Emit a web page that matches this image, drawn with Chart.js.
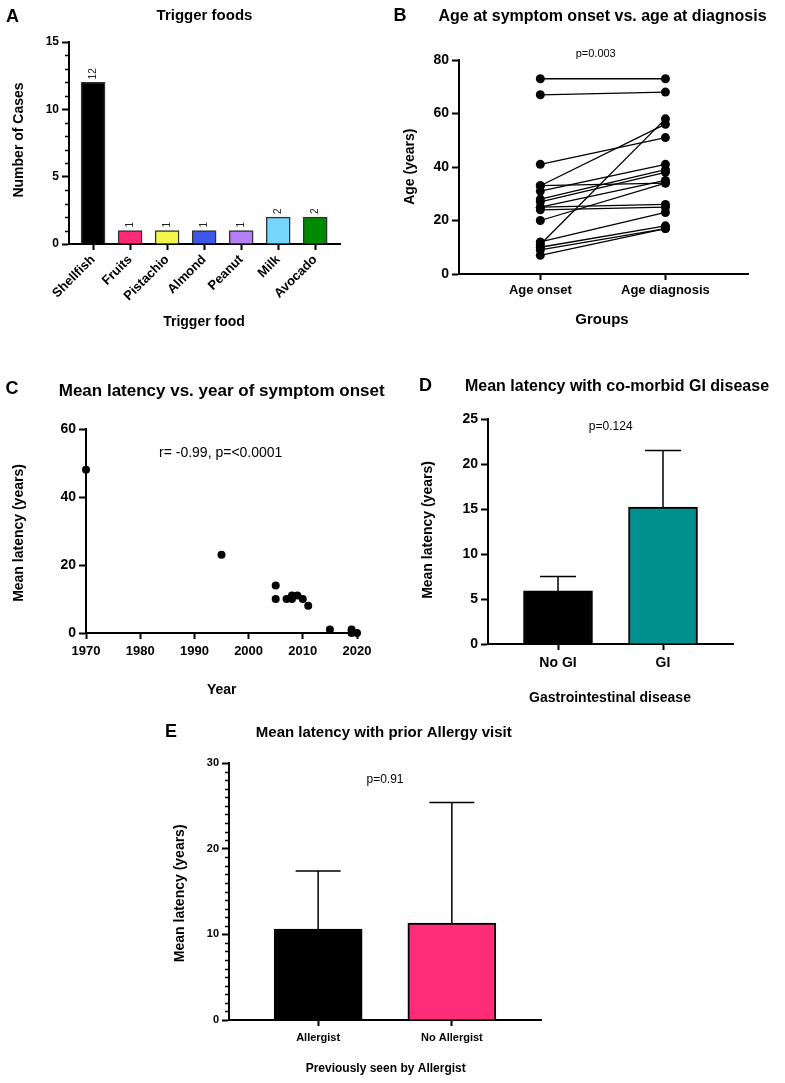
<!DOCTYPE html>
<html>
<head>
<meta charset="utf-8">
<script src="https://cdn.jsdelivr.net/npm/chart.js@4.4.0/dist/chart.umd.min.js"></script>
<style>
  html, body { margin: 0; padding: 0; background: #fff; }
  body { width: 785px; height: 1083px; position: relative; overflow: hidden; }
  canvas { position: absolute; }
</style>
</head>
<body>
<canvas id="chartA" width="390" height="335" style="left:0;top:0"></canvas>
<canvas id="chartB" width="395" height="335" style="left:390px;top:0"></canvas>
<canvas id="chartC" width="400" height="350" style="left:0;top:360px"></canvas>
<canvas id="chartD" width="385" height="350" style="left:400px;top:360px"></canvas>
<canvas id="chartE" width="450" height="378" style="left:150px;top:705px"></canvas>
<script>
// A - trigger foods
const foodNames = ['Shellfish', 'Fruits', 'Pistachio', 'Almond', 'Peanut', 'Milk', 'Avocado'];
const foodCases = [12, 1, 1, 1, 1, 2, 2];
const foodColors = ['#000000', '#ff2a75', '#f4f64b', '#3b58e6', '#b57ff6', '#76d5fa', '#008a00'];

// B - paired ages
const groupNames = ['Age onset', 'Age diagnosis'];
const onsetAge = [73, 67, 41, 33, 33, 31, 28, 27, 25, 25, 24, 20, 12, 11, 10, 9, 7];
const diagnosisAge = [73, 68, 51, 56, 34, 41, 39, 38, 35, 26, 25, 34, 23, 58, 18, 17, 17];

// C - latency vs year
const onsetYear = [1970, 1995, 2005, 2005, 2007, 2008, 2008, 2009, 2010, 2011, 2015, 2019, 2019, 2020];
const meanLatency = [48, 23, 14, 10, 10, 11, 10, 11, 10, 8, 1, 1, 0, 0];

// D - GI disease
const giGroups = ['No GI', 'GI'];
const giMean = [5.9, 15.2];
const giSd = [1.6, 6.3];

// E - allergist
const allergyGroups = ['Allergist', 'No Allergist'];
const allergyMean = [10.6, 11.3];
const allergySd = [6.8, 14.1];

Chart.defaults.font.family = '"Liberation Sans", Arial, Helvetica, sans-serif';
Chart.defaults.color = '#000';
Chart.defaults.animation = false;

const FONT = '"Liberation Sans", Arial, sans-serif';

// free text drawn on top of a chart
function textLayer(items) {
  return {
    id: 'textLayer',
    afterDraw(chart) {
      const ctx = chart.ctx;
      items.forEach(t => {
        ctx.save();
        ctx.font = (t.bold ? 'bold ' : '') + t.size + 'px ' + FONT;
        ctx.fillStyle = '#000';
        ctx.textAlign = 'center';
        ctx.textBaseline = 'middle';
        ctx.translate(t.x, t.y);
        if (t.rot) ctx.rotate(t.rot * Math.PI / 180);
        ctx.fillText(t.text, 0, 0);
        ctx.restore();
      });
    }
  };
}

// small ticks between the labelled ones on the y axis
function minorTicks(step, skipEvery, len) {
  return {
    id: 'minorTicks',
    afterDraw(chart) {
      const y = chart.scales.y, ctx = chart.ctx;
      ctx.save();
      ctx.strokeStyle = '#000';
      ctx.lineWidth = 1.5;
      for (let v = y.min; v <= y.max; v += step) {
        if (v % skipEvery === 0) continue;
        const py = Math.round(y.getPixelForValue(v)) + 0.5;
        ctx.beginPath();
        ctx.moveTo(y.right - len, py);
        ctx.lineTo(y.right, py);
        ctx.stroke();
      }
      ctx.restore();
    }
  };
}

// upper SD whiskers
function errorBars(sd, cap) {
  return {
    id: 'errorBars',
    afterDatasetsDraw(chart) {
      const meta = chart.getDatasetMeta(0), y = chart.scales.y, ctx = chart.ctx;
      const ds = chart.data.datasets[0].data;
      ctx.save();
      ctx.strokeStyle = '#000';
      ctx.lineWidth = 1.5;
      meta.data.forEach((bar, i) => {
        const top = y.getPixelForValue(ds[i].y + sd[i]);
        ctx.beginPath();
        ctx.moveTo(bar.x, bar.y);
        ctx.lineTo(bar.x, top);
        ctx.moveTo(bar.x - cap / 2, top);
        ctx.lineTo(bar.x + cap / 2, top);
        ctx.stroke();
      });
      ctx.restore();
    }
  };
}

// rotated counts above bars
const barCounts = {
  id: 'barCounts',
  afterDatasetsDraw(chart) {
    const meta = chart.getDatasetMeta(0), ctx = chart.ctx;
    ctx.save();
    ctx.font = '10px ' + FONT;
    ctx.fillStyle = '#222';
    ctx.textAlign = 'left';
    ctx.textBaseline = 'middle';
    meta.data.forEach((bar, i) => {
      ctx.save();
      ctx.translate(bar.x, bar.y - 3);
      ctx.rotate(-Math.PI / 2);
      ctx.fillText(String(foodCases[i]), 0, 0);
      ctx.restore();
    });
    ctx.restore();
  }
};

function grid(len) {
  return { offset: false, drawOnChartArea: false, drawTicks: true, tickLength: len, tickWidth: 2, tickColor: '#000' };
}
const border = { color: '#000', width: 2 };

// linear axis with named ticks at whole positions
function categoryAxis(names, min, max, height, size, pad, first) {
  return {
    type: 'linear', min: min, max: max, offset: false,
    afterBuildTicks: s => { s.ticks = names.map((n, i) => ({ value: i + first })); },
    afterFit: s => { s.height = height; },
    ticks: { autoSkip: false, maxRotation: 0, callback: v => names[v - first], font: { size: size, weight: 'bold' }, padding: pad },
    grid: grid(6), border: border
  };
}

function valueAxis(max, step, width, size) {
  return {
    min: 0, max: max,
    afterFit: s => { s.width = width; },
    ticks: { stepSize: step, font: { size: size, weight: 'bold' }, padding: 3 },
    grid: grid(7), border: border
  };
}

// ---- A
const xA = categoryAxis(foodNames, -0.65, 6.67, 91, 13, 2, 0);
xA.ticks.maxRotation = 45;
xA.ticks.minRotation = 45;
new Chart(document.getElementById('chartA'), {
  type: 'bar',
  data: {
    datasets: [{
      data: foodCases.map((v, i) => ({ x: i, y: v })),
      backgroundColor: foodColors,
      borderColor: '#333',
      borderWidth: 1.5,
      barThickness: 24
    }]
  },
  options: {
    responsive: false,
    layout: { padding: { left: 0, top: 42, right: 50, bottom: 0 } },
    plugins: { legend: { display: false }, tooltip: { enabled: false } },
    scales: { x: xA, y: valueAxis(15, 5, 69, 12) }
  },
  plugins: [barCounts, minorTicks(1, 5, 4), textLayer([
    { text: 'A', x: 12.5, y: 17, size: 18, bold: true },
    { text: 'Trigger foods', x: 204.5, y: 15.5, size: 15, bold: true },
    { text: 'Number of Cases', x: 19, y: 140, size: 14, bold: true, rot: -90 },
    { text: 'Trigger food', x: 204, y: 322, size: 14, bold: true }
  ])]
});

// ---- B
new Chart(document.getElementById('chartB'), {
  type: 'line',
  data: {
    datasets: onsetAge.map((a, i) => ({
      data: [{ x: 1, y: a }, { x: 2, y: diagnosisAge[i] }],
      borderColor: '#000',
      borderWidth: 1.3,
      pointRadius: 4.5,
      pointBackgroundColor: '#000',
      pointBorderWidth: 0,
      clip: false
    }))
  },
  options: {
    responsive: false,
    layout: { padding: { left: 0, top: 60, right: 37, bottom: 0 } },
    plugins: { legend: { display: false }, tooltip: { enabled: false } },
    scales: {
      x: categoryAxis(groupNames, 0.35, 2.66, 61, 13, 3, 1),
      y: valueAxis(80, 20, 69, 14)
    }
  },
  plugins: [textLayer([
    { text: 'B', x: 10, y: 16.5, size: 18, bold: true },
    { text: 'Age at symptom onset vs. age at diagnosis', x: 212.5, y: 16.5, size: 16, bold: true },
    { text: 'p=0.003', x: 205.7, y: 54, size: 11 },
    { text: 'Age (years)', x: 20, y: 166.7, size: 14, bold: true, rot: -90 },
    { text: 'Groups', x: 212, y: 320, size: 15, bold: true }
  ])]
});

// ---- C
new Chart(document.getElementById('chartC'), {
  type: 'scatter',
  data: {
    datasets: [{
      data: onsetYear.map((yr, i) => ({ x: yr, y: meanLatency[i] })),
      pointRadius: 4,
      pointBackgroundColor: '#000',
      pointBorderWidth: 0,
      clip: false
    }]
  },
  options: {
    responsive: false,
    layout: { padding: { left: 0, top: 69, right: 43, bottom: 0 } },
    plugins: { legend: { display: false }, tooltip: { enabled: false } },
    scales: {
      x: {
        min: 1970, max: 2020,
        afterFit: s => { s.height = 77; },
        ticks: { stepSize: 10, callback: v => String(v), font: { size: 13, weight: 'bold' }, padding: 5 },
        grid: grid(6), border: border
      },
      y: valueAxis(60, 20, 86, 14)
    }
  },
  plugins: [textLayer([
    { text: 'C', x: 12, y: 29.5, size: 18, bold: true },
    { text: 'Mean latency vs. year of symptom onset', x: 221.7, y: 31, size: 17, bold: true },
    { text: 'r= -0.99, p=<0.0001', x: 220.7, y: 93.3, size: 14 },
    { text: 'Mean latency (years)', x: 19, y: 173, size: 14, bold: true, rot: -90 },
    { text: 'Year', x: 221.7, y: 330, size: 14, bold: true }
  ])]
});

// ---- D
new Chart(document.getElementById('chartD'), {
  type: 'bar',
  data: {
    datasets: [{
      data: giMean.map((v, i) => ({ x: i + 1, y: v })),
      backgroundColor: ['#000000', '#00918f'],
      borderColor: '#000',
      borderWidth: 2,
      barThickness: 69
    }]
  },
  options: {
    responsive: false,
    layout: { padding: { left: 0, top: 59, right: 52, bottom: 0 } },
    plugins: { legend: { display: false }, tooltip: { enabled: false } },
    scales: {
      x: categoryAxis(giGroups, 1 / 3, 8 / 3, 66, 14, 5, 1),
      y: valueAxis(25, 5, 88, 14)
    }
  },
  plugins: [errorBars(giSd, 36), textLayer([
    { text: 'D', x: 25.5, y: 26, size: 18, bold: true },
    { text: 'Mean latency with co-morbid GI disease', x: 217, y: 26.7, size: 16, bold: true },
    { text: 'p=0.124', x: 210.7, y: 66.7, size: 12 },
    { text: 'Mean latency (years)', x: 28.3, y: 170, size: 14, bold: true, rot: -90 },
    { text: 'Gastrointestinal disease', x: 210, y: 338, size: 14, bold: true }
  ])]
});

// ---- E
new Chart(document.getElementById('chartE'), {
  type: 'bar',
  data: {
    datasets: [{
      data: allergyMean.map((v, i) => ({ x: i + 1, y: v })),
      backgroundColor: ['#000000', '#ff2d78'],
      borderColor: '#000',
      borderWidth: 2,
      barThickness: 88
    }]
  },
  options: {
    responsive: false,
    layout: { padding: { left: 0, top: 58, right: 59, bottom: 0 } },
    plugins: { legend: { display: false }, tooltip: { enabled: false } },
    scales: {
      x: categoryAxis(allergyGroups, 1 / 3, 8 / 3, 63, 11, 5, 1),
      y: valueAxis(30, 10, 79, 11)
    }
  },
  plugins: [errorBars(allergySd, 45), minorTicks(1, 10, 4), textLayer([
    { text: 'E', x: 21, y: 26.7, size: 18, bold: true },
    { text: 'Mean latency with prior Allergy visit', x: 233.8, y: 27.7, size: 15, bold: true },
    { text: 'p=0.91', x: 235, y: 75, size: 12 },
    { text: 'Mean latency (years)', x: 30, y: 188.3, size: 14, bold: true, rot: -90 },
    { text: 'Previously seen by Allergist', x: 235.7, y: 363.3, size: 12, bold: true }
  ])]
});
</script>
</body>
</html>
